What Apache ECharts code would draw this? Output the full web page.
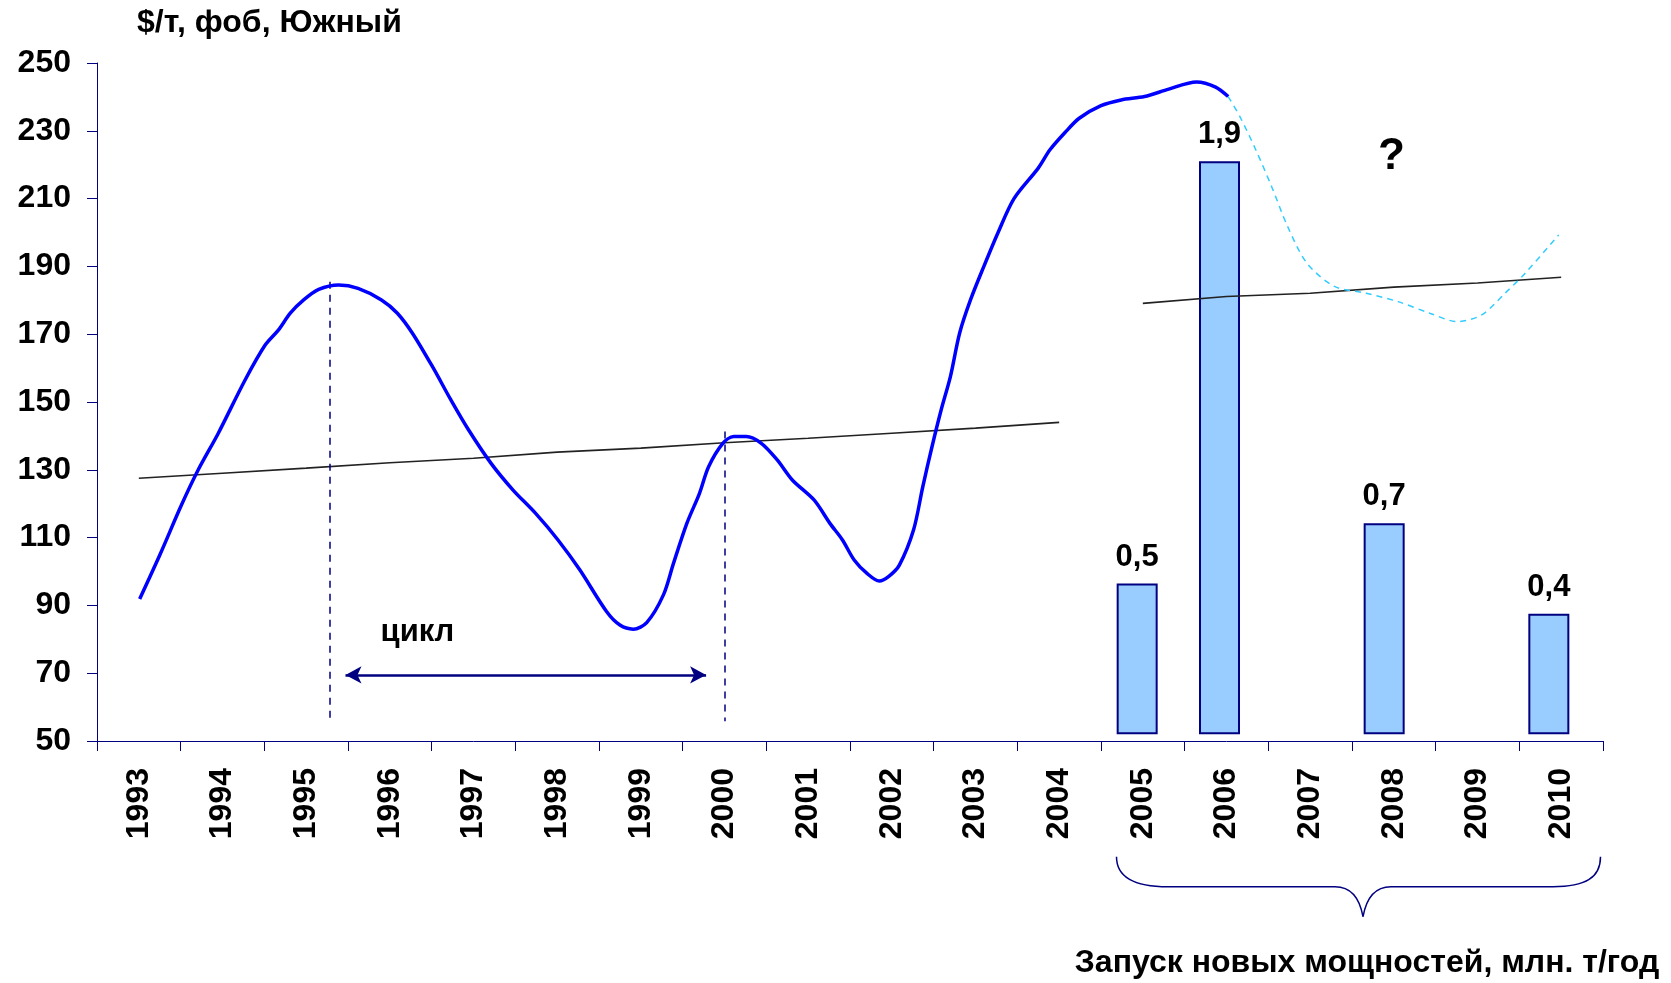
<!DOCTYPE html>
<html>
<head>
<meta charset="utf-8">
<script src="https://cdn.jsdelivr.net/npm/echarts@6/dist/echarts.min.js"></script>
<style>
  html, body { margin: 0; padding: 0; background: #fff; }
  #chart { width: 1671px; height: 983px; }
</style>
</head>
<body>
<div id="chart"></div>
<script>
// years on the category axis
var years = ['1993','1994','1995','1996','1997','1998','1999','2000','2001',
  '2002','2003','2004','2005','2006','2007','2008','2009','2010'];

// price, $/t fob Yuzhny (fractional years)
var priceYears = [1993.01,1993.26,1993.50,1993.71,1993.95,1994.27,1994.51,1994.67,1994.81,1994.97,
  1995.15,1995.39,1995.62,1995.90,1996.09,1996.27,1996.51,1996.73,1996.94,1997.21,
  1997.47,1997.74,1998.01,1998.27,1998.59,1998.75,1998.91,1999.07,1999.27,1999.39,
  1999.55,1999.70,1999.81,1999.98,2000.11,2000.26,2000.44,2000.63,2000.81,2001.07,
  2001.26,2001.41,2001.55,2001.70,2001.85,2001.96,2002.09,2002.26,2002.37,2002.48,
  2002.59,2002.70,2002.81,2002.94,2003.10,2003.27,2003.46,2003.75,2003.89,2004.07,
  2004.24,2004.50,2004.74,2005.02,2005.31,2005.64,2005.87,2006.02];
var priceValues = [91.9,105.4,119.1,130,140.8,156.5,166.8,171.3,176.2,180.1,
  183.2,184.5,183.5,180.1,176.2,170.3,160.4,150.6,141.8,131.9,
  124.1,117.2,109.3,100.5,88.2,84.2,83.0,84.9,93.1,102.4,
  114.2,123,130.9,137.8,139.8,139.8,137.8,132.9,127,121.1,
  114.2,109.3,103.4,99.5,97.2,98.5,101.9,112.3,125,136.8,
  147.7,157.5,170.3,180.1,190,200,210,219,224.4,229.5,
  233.7,237.4,239.1,240.1,242.3,244.4,242.9,240.1];

// forecast (dashed)
var forecastYears = [2006.02,2006.16,2006.35,2006.54,2006.73,2006.96,2007.29,2007.67,
  2008.05,2008.43,2008.76,2009.05,2009.33,2009.57,2009.97];
var forecastValues = [240.1,234.2,224.4,213.5,201.8,191,184.1,182.1,
  179.6,176.2,173.7,175.7,182.1,188.0,199.3];

// trend lines
var trendEarly = [127.5,129,130.5,132.1,133.4,135.2,136.4,138,139.3,140.8,142.3,144.0,
  null,null,null,null,null,null];
var trendLate = [null,null,null,null,null,null,null,null,null,null,null,null,
  179.1,181.1,182.1,183.9,185.1,186.8];

// launch of new capacities, mln t/year
var capacity = [null,null,null,null,null,null,null,null,null,null,null,null,
  0.5,1.9,null,0.7,null,0.4];

var FONT = "'Liberation Sans', Arial, sans-serif";
var NAVY = '#000080';

function pairs(xs, ys) {
  return xs.map(function (x, i) { return [x, ys[i]]; });
}

var chart = echarts.init(document.getElementById('chart'));

var braceStyle = { fill: 'none', stroke: NAVY, lineWidth: 1.5 };

var option = {
  animation: false,
  backgroundColor: '#fff',
  textStyle: { fontFamily: FONT },
  grid: [
    { left: 97, right: 68, top: 63, bottom: 242 },
    { left: 108, right: 81, top: 63, bottom: 242 }
  ],
  xAxis: [
    {
      type: 'category',
      gridIndex: 0,
      data: years,
      boundaryGap: true,
      axisLine: { lineStyle: { color: NAVY, width: 1 } },
      axisTick: { show: true, inside: false, length: 10, interval: 0, lineStyle: { color: NAVY } },
      axisLabel: {
        interval: 0, rotate: 90, margin: 27,
        color: '#000', fontSize: 32, fontWeight: 'bold', fontFamily: FONT
      },
      splitLine: { show: false }
    },
    { type: 'value', gridIndex: 0, min: 1992.5, max: 2010.5, show: false },
    { type: 'category', gridIndex: 1, data: years, show: false }
  ],
  yAxis: [
    {
      type: 'value',
      gridIndex: 0,
      min: 50, max: 250, interval: 20,
      axisLine: { show: true, lineStyle: { color: NAVY, width: 1 } },
      axisTick: { show: true, length: 10, lineStyle: { color: NAVY } },
      axisLabel: {
        margin: 26, color: '#000', fontSize: 32, fontWeight: 'bold', fontFamily: FONT
      },
      splitLine: { show: false }
    },
    { type: 'value', gridIndex: 1, min: -0.022, max: 2.226, show: false }
  ],
  series: [
    {
      name: 'trend1',
      type: 'line',
      xAxisIndex: 0, yAxisIndex: 0,
      data: trendEarly,
      symbol: 'none',
      lineStyle: { color: '#222', width: 1.6 },
      z: 3
    },
    {
      name: 'trend2',
      type: 'line',
      xAxisIndex: 0, yAxisIndex: 0,
      data: trendLate,
      symbol: 'none',
      lineStyle: { color: '#222', width: 1.6 },
      z: 3
    },
    {
      name: 'capacity',
      type: 'bar',
      xAxisIndex: 2, yAxisIndex: 1,
      data: capacity,
      barWidth: 41,
      itemStyle: { color: '#99CCFF', borderColor: NAVY, borderWidth: 2 },
      label: {
        show: true, position: 'top', distance: 11,
        color: '#000', fontSize: 31, fontWeight: 'bold', fontFamily: FONT,
        formatter: function (p) { return String(p.value).replace('.', ','); }
      },
      z: 2
    },
    {
      name: 'price',
      type: 'line',
      xAxisIndex: 1, yAxisIndex: 0,
      data: pairs(priceYears, priceValues),
      smooth: 0.3,
      symbol: 'none',
      lineStyle: { color: '#0000FF', width: 3.5 },
      z: 5,
      markLine: {
        silent: true,
        symbol: ['none', 'none'],
        label: { show: false },
        lineStyle: { color: NAVY, width: 1.5, type: [7, 6] },
        data: [
          [{ coord: [1995.28, 185.5] }, { coord: [1995.28, 55.8] }],
          [{ coord: [2000.0, 141.3] }, { coord: [2000.0, 55.8] }]
        ]
      },
      markPoint: {
        silent: true,
        symbolSize: 0,
        data: [
          {
            coord: [1996.33, 82.0],
            label: { show: true, position: 'inside', formatter: 'цикл',
              color: '#000', fontSize: 31, fontWeight: 'bold', fontFamily: FONT }
          },
          {
            coord: [2007.97, 222.4],
            label: { show: true, position: 'inside', formatter: '?',
              color: '#000', fontSize: 44, fontWeight: 'bold', fontFamily: FONT }
          }
        ]
      }
    },
    {
      name: 'forecast',
      type: 'line',
      xAxisIndex: 1, yAxisIndex: 0,
      data: pairs(forecastYears, forecastValues),
      smooth: 0.3,
      symbol: 'none',
      lineStyle: { color: '#33CCFF', width: 1.5, type: [6, 5] },
      z: 4,
      markLine: {
        silent: true,
        symbol: ['arrow', 'arrow'],
        symbolSize: [13, 16],
        label: { show: false },
        lineStyle: { color: NAVY, width: 2.5, type: 'solid' },
        data: [
          [{ coord: [1995.47, 69.5] }, { coord: [1999.78, 69.5] }]
        ]
      }
    }
  ],
  graphic: [
    {
      type: 'text',
      x: 137, y: 7,
      style: { text: '$/т, фоб, Южный', fill: '#000', font: 'bold 32px ' + FONT }
    },
    // curly brace under 2005-2010
    { type: 'bezierCurve', shape: { x1: 1116.5, y1: 856.7, cpx1: 1116.5, cpy1: 878, cpx2: 1135, cpy2: 886.7, x2: 1168, y2: 886.7 }, style: braceStyle },
    { type: 'line', shape: { x1: 1168, y1: 886.7, x2: 1335, y2: 886.7 }, style: braceStyle },
    { type: 'bezierCurve', shape: { x1: 1335, y1: 886.7, cpx1: 1352, cpy1: 886.7, cpx2: 1360, cpy2: 900, x2: 1363, y2: 916.7 }, style: braceStyle },
    { type: 'bezierCurve', shape: { x1: 1363, y1: 916.7, cpx1: 1366, cpy1: 900, cpx2: 1374, cpy2: 886.7, x2: 1391, y2: 886.7 }, style: braceStyle },
    { type: 'line', shape: { x1: 1391, y1: 886.7, x2: 1553, y2: 886.7 }, style: braceStyle },
    { type: 'bezierCurve', shape: { x1: 1553, y1: 886.7, cpx1: 1585, cpy1: 886.7, cpx2: 1600.5, cpy2: 878, x2: 1600.5, y2: 856.7 }, style: braceStyle },
    {
      type: 'text',
      x: 1367, y: 963,
      style: {
        text: 'Запуск новых мощностей, млн. т/год', fill: '#000',
        font: 'bold 32px ' + FONT, textAlign: 'center', textVerticalAlign: 'middle'
      }
    }
  ]
};

chart.setOption(option);
</script>
</body>
</html>
